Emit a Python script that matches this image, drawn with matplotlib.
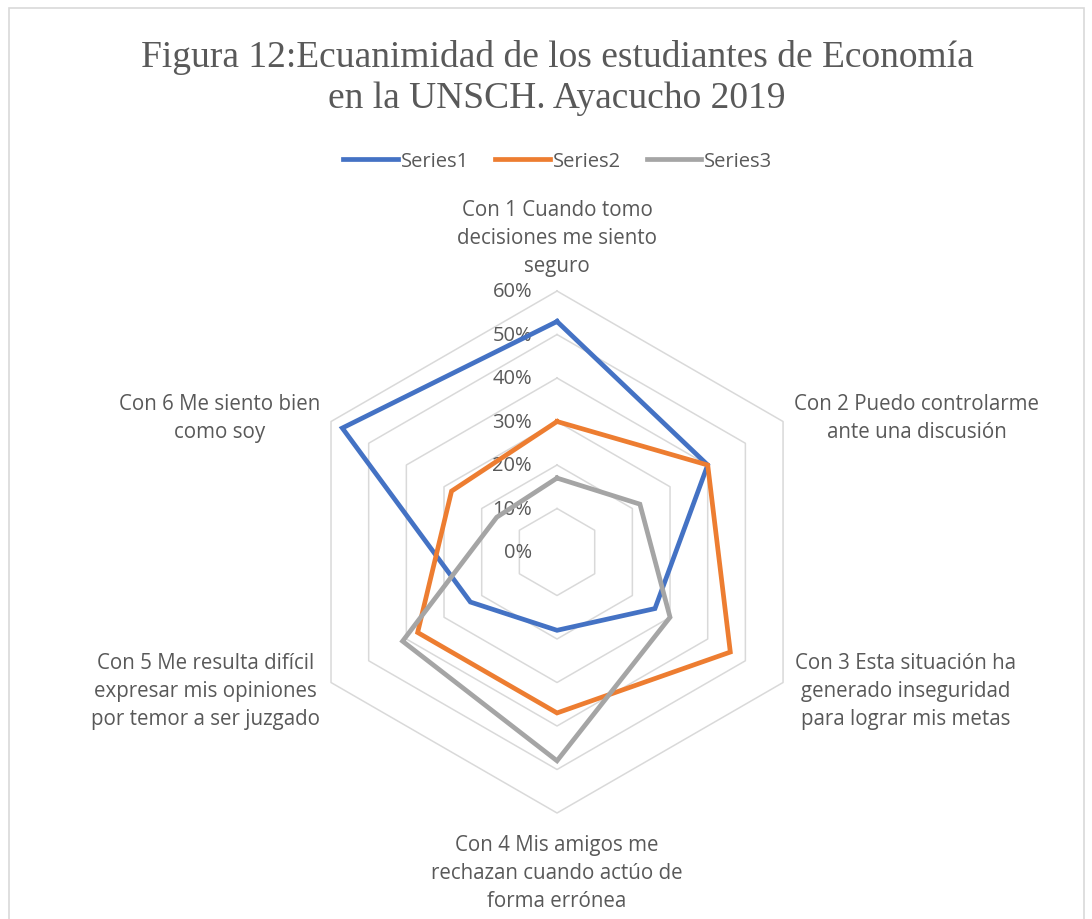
import numpy as np
import matplotlib.pyplot as plt
from matplotlib.patches import Rectangle

categories = [
    'Con 1 Cuando tomo\ndecisiones me siento\nseguro',
    'Con 2 Puedo controlarme\nante una discusión',
    'Con 3 Esta situación ha\ngenerado inseguridad\npara lograr mis metas',
    'Con 4 Mis amigos me\nrechazan cuando actúo de\nforma errónea',
    'Con 5 Me resulta difícil\nexpresar mis opiniones\npor temor a ser juzgado',
    'Con 6 Me siento bien\ncomo soy',
]
series1 = [0.53, 0.40, 0.26, 0.18, 0.23, 0.57]
series2 = [0.30, 0.40, 0.46, 0.37, 0.37, 0.28]
series3 = [0.17, 0.22, 0.30, 0.48, 0.41, 0.16]
series_names = ['Series1', 'Series2', 'Series3']
ticks = [0.0, 0.1, 0.2, 0.3, 0.4, 0.5, 0.6]
tick_labels = ['0%', '10%', '20%', '30%', '40%', '50%', '60%']

colors = ['#4472C4', '#ED7D31', '#A5A5A5']
txt = '#595959'
font = ['Open Sans', 'DejaVu Sans']
fs = 14.8

n = len(categories)
angles = np.linspace(0, 2 * np.pi, n, endpoint=False)
closed = np.append(angles, angles[0])

fig = plt.figure(figsize=(10.92, 9.2), dpi=100)
fig.patches.append(Rectangle((0.008, -0.01), 0.985, 1.0, transform=fig.transFigure,
                             fill=False, edgecolor='#D9D9D9', linewidth=1.2))

ax = fig.add_axes([0.2711, 0.1152, 0.478, 0.5674], projection='polar')
ax.set_theta_offset(np.pi / 2)
ax.set_theta_direction(-1)
ax.set_ylim(0, ticks[-1])
ax.set_xticks([])
ax.set_yticks([])
ax.grid(False)
ax.spines['polar'].set_visible(False)
ax.patch.set_alpha(0)

# hexagon rings
for t in ticks[1:]:
    ax.plot(closed, [t] * (n + 1), color='#D9D9D9', lw=1.1, zorder=1, clip_on=False)

for t, lab in zip(ticks, tick_labels):
    ax.annotate(lab, xy=(0, t), xytext=(-25, 0), textcoords='offset pixels',
                ha='right', va='center', fontsize=14.5, color=txt, family=font,
                annotation_clip=False)

for vals, c, name in zip([series1, series2, series3], colors, series_names):
    ax.plot(closed, vals + vals[:1], color=c, lw=3.4, label=name, zorder=3,
            solid_joinstyle='miter', clip_on=False)

offsets = [(0, 15), (11, 4), (12, -8), (0, -21), (-11, -8), (-11, 4)]
has = ['center', 'left', 'left', 'center', 'right', 'right']
vas = ['bottom', 'center', 'center', 'top', 'center', 'center']
for a, lab, off, ha, va in zip(angles, categories, offsets, has, vas):
    ax.annotate(lab, xy=(a, ticks[-1]), xytext=off, textcoords='offset pixels',
                ha=ha, va=va, multialignment='center', fontsize=fs, color=txt,
                family=font, linespacing=1.43, annotation_clip=False)

fig.text(0.51, 1 - 78 / 920, 'Figura 12:Ecuanimidad de los estudiantes de Economía\nen la UNSCH. Ayacucho 2019',
         ha='center', va='center', fontsize=27, color=txt, family='Liberation Serif',
         linespacing=1.28)

handles, labels = ax.get_legend_handles_labels()
fig.legend(handles, labels, loc='center', bbox_to_anchor=(0.511, 1 - 162 / 920), ncol=3,
           frameon=False, handlelength=2.7, handletextpad=0.15, columnspacing=1.3,
           prop={'family': font, 'size': 14.5}, labelcolor=txt)

fig.savefig('out.png', dpi=100)
